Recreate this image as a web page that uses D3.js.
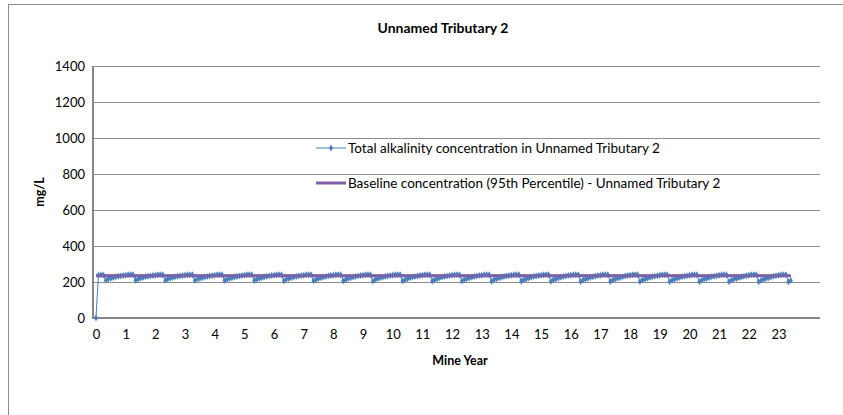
<!DOCTYPE html>
<html>
<head>
<meta charset="utf-8">
<script src="https://cdn.jsdelivr.net/npm/d3@7"></script>
<style>
  body { margin: 0; background: #fff; }
  svg { display: block; font-family: Lato, "Open Sans", sans-serif; }
</style>
</head>
<body>
<div id="chart"></div>
<script>
// monthly alkalinity readings, one row per mine year
const alkalinity = [
  [0, 238, 240, 239, 210, 217, 221, 225, 229, 232, 234, 236],
  [238, 240, 241, 240, 210, 216, 221, 225, 229, 232, 234, 236],
  [238, 240, 241, 240, 209, 216, 221, 225, 229, 232, 234, 236],
  [238, 240, 241, 240, 209, 216, 220, 224, 228, 231, 234, 236],
  [238, 240, 241, 240, 208, 215, 220, 224, 228, 231, 234, 236],
  [238, 240, 241, 240, 208, 215, 220, 224, 228, 231, 234, 236],
  [238, 240, 241, 240, 207, 215, 220, 224, 228, 231, 234, 236],
  [238, 240, 241, 240, 207, 214, 219, 223, 227, 231, 234, 236],
  [238, 240, 241, 240, 206, 214, 219, 223, 227, 231, 234, 236],
  [238, 240, 241, 240, 206, 214, 219, 223, 227, 231, 234, 236],
  [238, 240, 241, 240, 205, 213, 218, 223, 227, 230, 233, 236],
  [238, 240, 241, 240, 205, 213, 218, 223, 227, 230, 233, 236],
  [238, 240, 241, 240, 205, 213, 218, 222, 226, 230, 233, 236],
  [238, 240, 241, 240, 204, 212, 218, 222, 226, 230, 233, 236],
  [238, 240, 241, 240, 204, 212, 217, 222, 226, 230, 233, 236],
  [238, 240, 241, 240, 204, 212, 217, 222, 226, 230, 233, 236],
  [238, 240, 241, 240, 203, 211, 217, 221, 226, 229, 233, 236],
  [238, 240, 241, 240, 203, 211, 217, 221, 225, 229, 233, 236],
  [238, 240, 241, 240, 203, 211, 216, 221, 225, 229, 232, 235],
  [238, 240, 241, 240, 202, 210, 216, 221, 225, 229, 232, 235],
  [238, 240, 241, 240, 202, 210, 216, 220, 225, 229, 232, 235],
  [238, 240, 241, 240, 202, 210, 216, 220, 224, 228, 232, 235],
  [238, 240, 241, 240, 201, 209, 215, 220, 224, 228, 232, 235],
  [238, 240, 241, 240, 201, 209]
];
const baseline = 235;           // 95th percentile baseline, mg/L
const yTicks = [0, 200, 400, 600, 800, 1000, 1200, 1400];
const xTicks = d3.range(0, 24); // mine year labels 0..23
const legendLabels = [
  "Total alkalinity concentration in Unnamed Tributary 2",
  "Baseline concentration (95th Percentile) - Unnamed Tributary 2"
];

const width = 843, height = 415;
const plot = { left: 93, right: 820, top: 66, bottom: 318 };
const blue = "#4a7ebb", purple = "#7f5fa8";

// flatten into points (x in years)
const points = [];
alkalinity.forEach((row, yr) => {
  row.forEach((v, m) => points.push({ t: yr + m / 12, v: v }));
});

const x = d3.scaleLinear().domain([-0.1, 24.4]).range([plot.left, plot.right]);
const y = d3.scaleLinear().domain([0, 1400]).range([plot.bottom, plot.top]);

const svg = d3.select("#chart").append("svg")
  .attr("width", width)
  .attr("height", height);

// chart area border
svg.append("rect")
  .attr("x", 8.5).attr("y", 4.5)
  .attr("width", 900).attr("height", 500)
  .attr("fill", "#fff")
  .attr("stroke", "#8c8c8c")
  .attr("stroke-width", 1);

// title
svg.append("text")
  .attr("x", 443).attr("y", 33)
  .attr("text-anchor", "middle")
  .style("font-size", "14px")
  .style("font-weight", "bold")
  .text("Unnamed Tributary 2");

// gridlines
svg.append("g")
  .selectAll("line")
  .data(yTicks.filter(d => d > 0))
  .enter().append("line")
  .attr("x1", plot.left).attr("x2", plot.right)
  .attr("y1", d => Math.round(y(d)) + 0.5)
  .attr("y2", d => Math.round(y(d)) + 0.5)
  .attr("stroke", "#8c8c8c")
  .attr("stroke-width", 1);

// axes
const yAxis = d3.axisLeft(y).tickValues(yTicks).tickSize(0).tickPadding(8).tickFormat(d3.format("d"));
svg.append("g")
  .attr("transform", "translate(" + plot.left + ",0)")
  .call(yAxis)
  .call(g => g.select(".domain").remove())
  .selectAll("text")
  .style("font-size", "13px")
  .style("fill", "#000")
  .style("font-family", "Lato, sans-serif");

const xAxis = d3.axisBottom(x).tickValues(xTicks).tickSize(0).tickPadding(12).tickFormat(d3.format("d"));
svg.append("g")
  .attr("transform", "translate(0," + plot.bottom + ")")
  .call(xAxis)
  .call(g => g.select(".domain").remove())
  .selectAll("text")
  .style("font-size", "13px")
  .style("fill", "#000")
  .style("font-family", "Lato, sans-serif");

svg.append("line")
  .attr("x1", plot.left).attr("x2", plot.left)
  .attr("y1", plot.top).attr("y2", plot.bottom)
  .attr("stroke", "#868686").attr("stroke-width", 2);
svg.append("line")
  .attr("x1", plot.left - 1).attr("x2", plot.right)
  .attr("y1", plot.bottom).attr("y2", plot.bottom)
  .attr("stroke", "#868686").attr("stroke-width", 2);

// axis titles
svg.append("text")
  .attr("transform", "translate(44," + ((plot.top + plot.bottom) / 2) + ") rotate(-90)")
  .attr("text-anchor", "middle")
  .style("font-size", "12.5px")
  .style("font-weight", "bold")
  .text("mg/L");

svg.append("text")
  .attr("x", 460).attr("y", 365)
  .attr("text-anchor", "middle")
  .style("font-size", "12.5px")
  .style("font-weight", "bold")
  .text("Mine Year");

// baseline series
const tExtent = d3.extent(points, d => d.t);
svg.append("line")
  .attr("x1", x(tExtent[0])).attr("x2", x(tExtent[1]))
  .attr("y1", y(baseline)).attr("y2", y(baseline))
  .attr("stroke", purple)
  .attr("stroke-width", 3);

// alkalinity series
const line = d3.line().x(d => x(d.t)).y(d => y(d.v));
svg.append("path")
  .datum(points)
  .attr("d", line)
  .attr("fill", "none")
  .attr("stroke", blue)
  .attr("stroke-width", 1);

const diamond = d3.symbol().type(d3.symbolDiamond).size(14);
svg.append("g")
  .selectAll("path")
  .data(points)
  .enter().append("path")
  .attr("d", diamond)
  .attr("transform", d => "translate(" + x(d.t) + "," + y(d.v) + ")")
  .attr("fill", blue);

// redraw baseline over markers lightly so the purple band reads on top
svg.append("line")
  .attr("x1", x(tExtent[0])).attr("x2", x(tExtent[1]))
  .attr("y1", y(baseline)).attr("y2", y(baseline))
  .attr("stroke", purple)
  .attr("stroke-width", 2.5)
  .attr("opacity", 0.85);

// legend
const legend = svg.append("g");
const ly = [148, 183];
legend.append("line")
  .attr("x1", 316).attr("x2", 346).attr("y1", ly[0]).attr("y2", ly[0])
  .attr("stroke", blue).attr("stroke-width", 1);
legend.append("path")
  .attr("d", diamond)
  .attr("transform", "translate(331," + ly[0] + ")")
  .attr("fill", blue);
legend.append("line")
  .attr("x1", 316).attr("x2", 346).attr("y1", ly[1]).attr("y2", ly[1])
  .attr("stroke", purple).attr("stroke-width", 3);

legend.selectAll("text")
  .data(legendLabels)
  .enter().append("text")
  .attr("x", 348)
  .attr("y", (d, i) => ly[i] + 4.5)
  .style("font-size", "13.5px")
  .text(d => d);
</script>
</body>
</html>
